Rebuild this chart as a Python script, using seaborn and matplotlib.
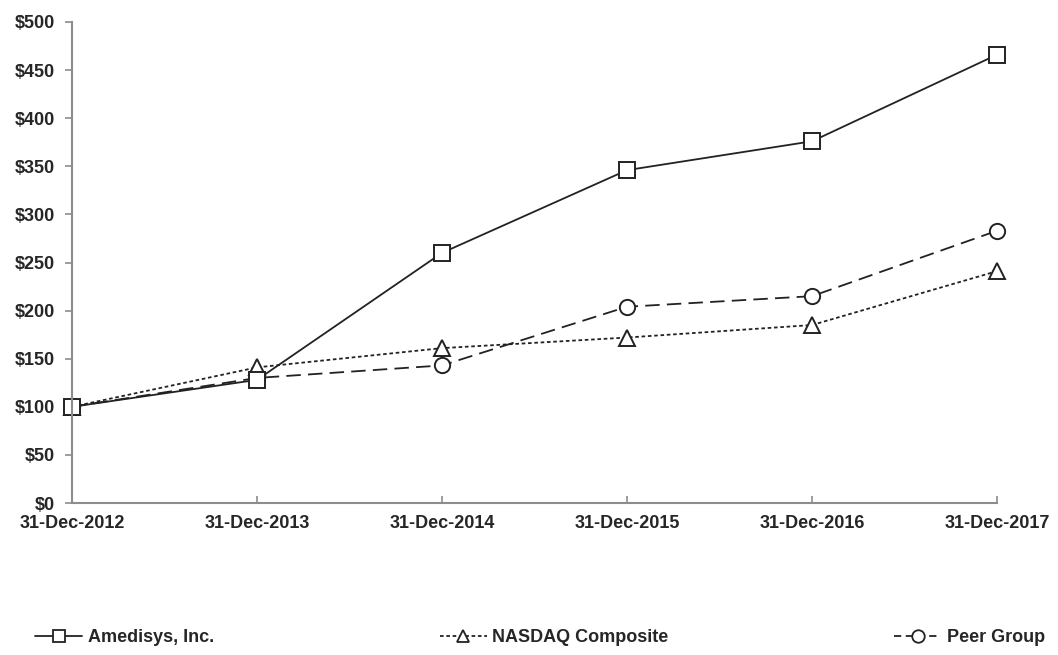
import matplotlib
matplotlib.use("Agg")
import matplotlib.pyplot as plt
import seaborn as sns
import pandas as pd
from matplotlib.lines import Line2D

dates = ["31-Dec-2012", "31-Dec-2013", "31-Dec-2014", "31-Dec-2015", "31-Dec-2016", "31-Dec-2017"]
amedisys = [100, 128, 260, 346, 376, 466]
nasdaq = [100, 141, 161, 172, 185, 241]
peer = [100, 130, 143, 204, 215, 283]
series_names = ["Amedisys, Inc.", "NASDAQ Composite", "Peer Group"]
y_ticks = [0, 50, 100, 150, 200, 250, 300, 350, 400, 450, 500]

rows = []
for name, vals in zip(series_names, [amedisys, nasdaq, peer]):
    for i, v in enumerate(vals):
        rows.append({"idx": i, "value": v, "series": name})
df = pd.DataFrame(rows)

sns.set_style("white")
plt.rcParams['font.family'] = ['Liberation Sans', 'DejaVu Sans']

fig = plt.figure(figsize=(10.58, 6.55), dpi=100)
ax = fig.add_axes([72/1058, 1 - 503/655, (997-72)/1058, (503-22)/655])

markers = {"Amedisys, Inc.": "s", "NASDAQ Composite": "^", "Peer Group": "o"}
dashes = {"Amedisys, Inc.": "", "NASDAQ Composite": (2, 1.5), "Peer Group": (8, 4)}
legend_dashes = {"Amedisys, Inc.": "", "NASDAQ Composite": (2, 1.5), "Peer Group": (4, 2.5)}
draw_order = ["Peer Group", "NASDAQ Composite", "Amedisys, Inc."]

sns.lineplot(data=df, x="idx", y="value", hue="series", style="series",
             hue_order=draw_order, style_order=draw_order,
             palette={n: "#222222" for n in series_names},
             markers=markers, dashes=dashes, ax=ax, linewidth=1.3,
             markersize=11, markerfacecolor="white", markeredgecolor="#222222",
             markeredgewidth=1.4, legend=False, clip_on=False)

ax.set_xlim(0, 5)
ax.set_ylim(0, 500)
ax.set_xticks(range(len(dates)))
ax.set_xticklabels(dates, fontsize=13, fontweight="bold")
ax.set_yticks(y_ticks)
ax.set_yticklabels([f"${v}" for v in y_ticks], fontsize=13, fontweight="bold")
ax.set_xlabel("")
ax.set_ylabel("")
for s in ["top", "right"]:
    ax.spines[s].set_visible(False)
for s in ["left", "bottom"]:
    ax.spines[s].set_color("#8c8c8c")
    ax.spines[s].set_linewidth(1.5)
ax.tick_params(axis="y", direction="out", length=5, color="#8c8c8c", width=1.2, pad=7, left=True)
ax.tick_params(axis="x", direction="in", length=5, color="#8c8c8c", width=1.2, pad=9, bottom=True)

handles = []
for n in series_names:
    d = legend_dashes[n]
    ls = (0, d) if d else "-"
    h = Line2D([], [], color="#222222", linewidth=1.3, linestyle=ls, marker=markers[n], markersize=9,
               markerfacecolor="white", markeredgecolor="#222222", markeredgewidth=1.3)
    handles.append(h)
fig.legend(handles, series_names, loc="center", ncol=3, mode="expand",
           bbox_to_anchor=(28/1058, 1 - 650/655, (1052-28)/1058, 25/655),
           frameon=False, prop={"size": 13, "weight": "bold"}, handlelength=2.6,
           handletextpad=0.3, borderaxespad=0)

fig.savefig("out.png", dpi=100)
